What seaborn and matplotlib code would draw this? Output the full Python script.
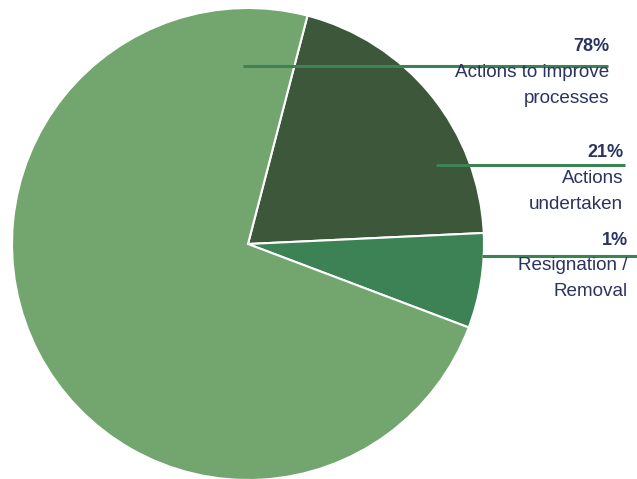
import matplotlib
matplotlib.use("Agg")
import matplotlib.pyplot as plt
import seaborn as sns

# Data (slice sizes as drawn; label text as printed)
categories = ["Actions undertaken", "Resignation / Removal", "Actions to improve processes"]
values = [20.2, 6.5, 73.3]
pct_labels = ["21%", "1%", "78%"]
label_lines = [["Actions", "undertaken"], ["Resignation /", "Removal"], ["Actions to improve", "processes"]]

sns.set_theme(style="white")
plt.rcParams['font.family'] = ['Liberation Sans', 'DejaVu Sans']

colors = ["#3D573B", "#3C8255", "#73A56F"]
text_color = "#2B3360"
line_color = "#3C8255"

W, H = 637, 479
fig = plt.figure(figsize=(W / 100, H / 100), dpi=100)
ax = fig.add_axes([0, 0, 1, 1])
ax.set_xlim(0, W)
ax.set_ylim(0, H)
ax.set_aspect("equal")
ax.axis("off")

cx, cy, r = 248, H - 244, 236
ax.pie(values, colors=colors, startangle=75.4, counterclock=False,
       center=(cx, cy), radius=r,
       wedgeprops=dict(edgecolor="white", linewidth=1.5), frame=False)
ax.set_xlim(0, W)
ax.set_ylim(0, H)
ax.axis("off")

# layout: (line x start, line x end, line y px, text right x px, pct y px)
layout = [
    (436, 625, 165, 623, 152),
    (482, 637, 256, 628, 240),
    (243, 608, 66, 609, 46),
]
for (x0, x1, ly, tx, py), pct, lines in zip(layout, pct_labels, label_lines):
    ax.plot([x0, x1], [H - ly, H - ly], color=line_color, lw=2.2, solid_capstyle="butt")
    ax.text(tx, H - py, pct, ha="right", va="center", fontsize=13,
            fontweight="bold", color=text_color)
    for i, t in enumerate(lines):
        ax.text(tx, H - (py + 26 * (i + 1)), t, ha="right", va="center",
                fontsize=13.6, color=text_color)

fig.savefig("out.png", dpi=100)
